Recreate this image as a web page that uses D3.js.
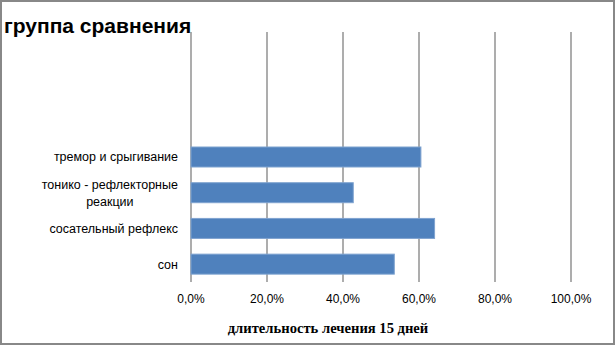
<!DOCTYPE html>
<html><head><meta charset="utf-8">
<script src="https://cdn.jsdelivr.net/npm/d3@7"></script>
<style>body{margin:0;background:#fff}</style>
</head><body>
<svg id="c" width="616" height="346"></svg>
<script>
const title = "группа сравнения";
const axisTitle = "длительность лечения 15 дней";
// categories from bottom to top; three empty slots at top
const categories = ["сон", "сосательный рефлекс", "тонико - рефлекторные реакции", "тремор и срыгивание", "", "", ""];
const values = [53.5, 64.1, 42.7, 60.5, null, null, null];
const ticks = [0, 20, 40, 60, 80, 100];

const svg = d3.select("#c");
svg.append("rect").attr("x",1).attr("y",1).attr("width",613).attr("height",343)
  .attr("fill","#fff").attr("stroke","#888").attr("stroke-width",2);

const x = d3.scaleLinear().domain([0,100]).range([191,571]);
const y = d3.scaleBand().domain(d3.range(categories.length).reverse()).range([32,282]).paddingInner(0.44).paddingOuter(0.22);

// gridlines
svg.append("g").selectAll("line").data(ticks).join("line")
  .attr("x1",d=>x(d)).attr("x2",d=>x(d)).attr("y1",32).attr("y2",282)
  .attr("stroke","#999").attr("stroke-width",1.6);

// bars
svg.append("g").selectAll("rect").data(values.map((v,i)=>({v,i})).filter(d=>d.v!=null)).join("rect")
  .attr("x",x(0)).attr("y",d=>y(d.i)).attr("width",d=>x(d.v)-x(0)).attr("height",y.bandwidth())
  .attr("fill","#4F81BD").attr("stroke","#7FA3D0").attr("stroke-width",1);

// category labels
const lab = svg.append("g").attr("font-family","Liberation Sans, Arial, sans-serif").attr("font-size",12.5).attr("fill","#000");
categories.forEach((c,i)=>{
  if(!c) return;
  const cy = y(i)+y.bandwidth()/2;
  let lines = c==="тонико - рефлекторные реакции" ? ["тонико - рефлекторные","реакции"] : [c];
  const t = lab.append("text").attr("text-anchor","middle");
  const cx = 178;
  lines.forEach((l,k)=>{
    t.append("tspan").attr("x",cx).attr("y",cy + (k-(lines.length-1)/2)*17).attr("dy","0.35em").text(l);
  });
  const w = t.node().getBBox().width;
  t.selectAll("tspan").attr("x", cx - w/2);
});

// tick labels
svg.append("g").selectAll("text").data(ticks).join("text")
  .attr("x",d=>x(d)).attr("y",299).attr("dy","0.35em").attr("text-anchor","middle")
  .attr("font-family","Liberation Sans, Arial, sans-serif").attr("font-size",12)
  .text(d=>d3.format(".1f")(d).replace(".",",")+"%");

svg.append("text").attr("x",328).attr("y",328).attr("dy","0.35em").attr("text-anchor","middle")
  .attr("font-family","Liberation Serif, Times New Roman, serif").attr("font-weight","bold").attr("font-size",14.6)
  .text(axisTitle);

svg.append("text").attr("x",4).attr("y",33)
  .attr("font-family","Liberation Sans, Arial, sans-serif").attr("font-weight","bold").attr("font-size",21)
  .text(title);
</script>
</body></html>
